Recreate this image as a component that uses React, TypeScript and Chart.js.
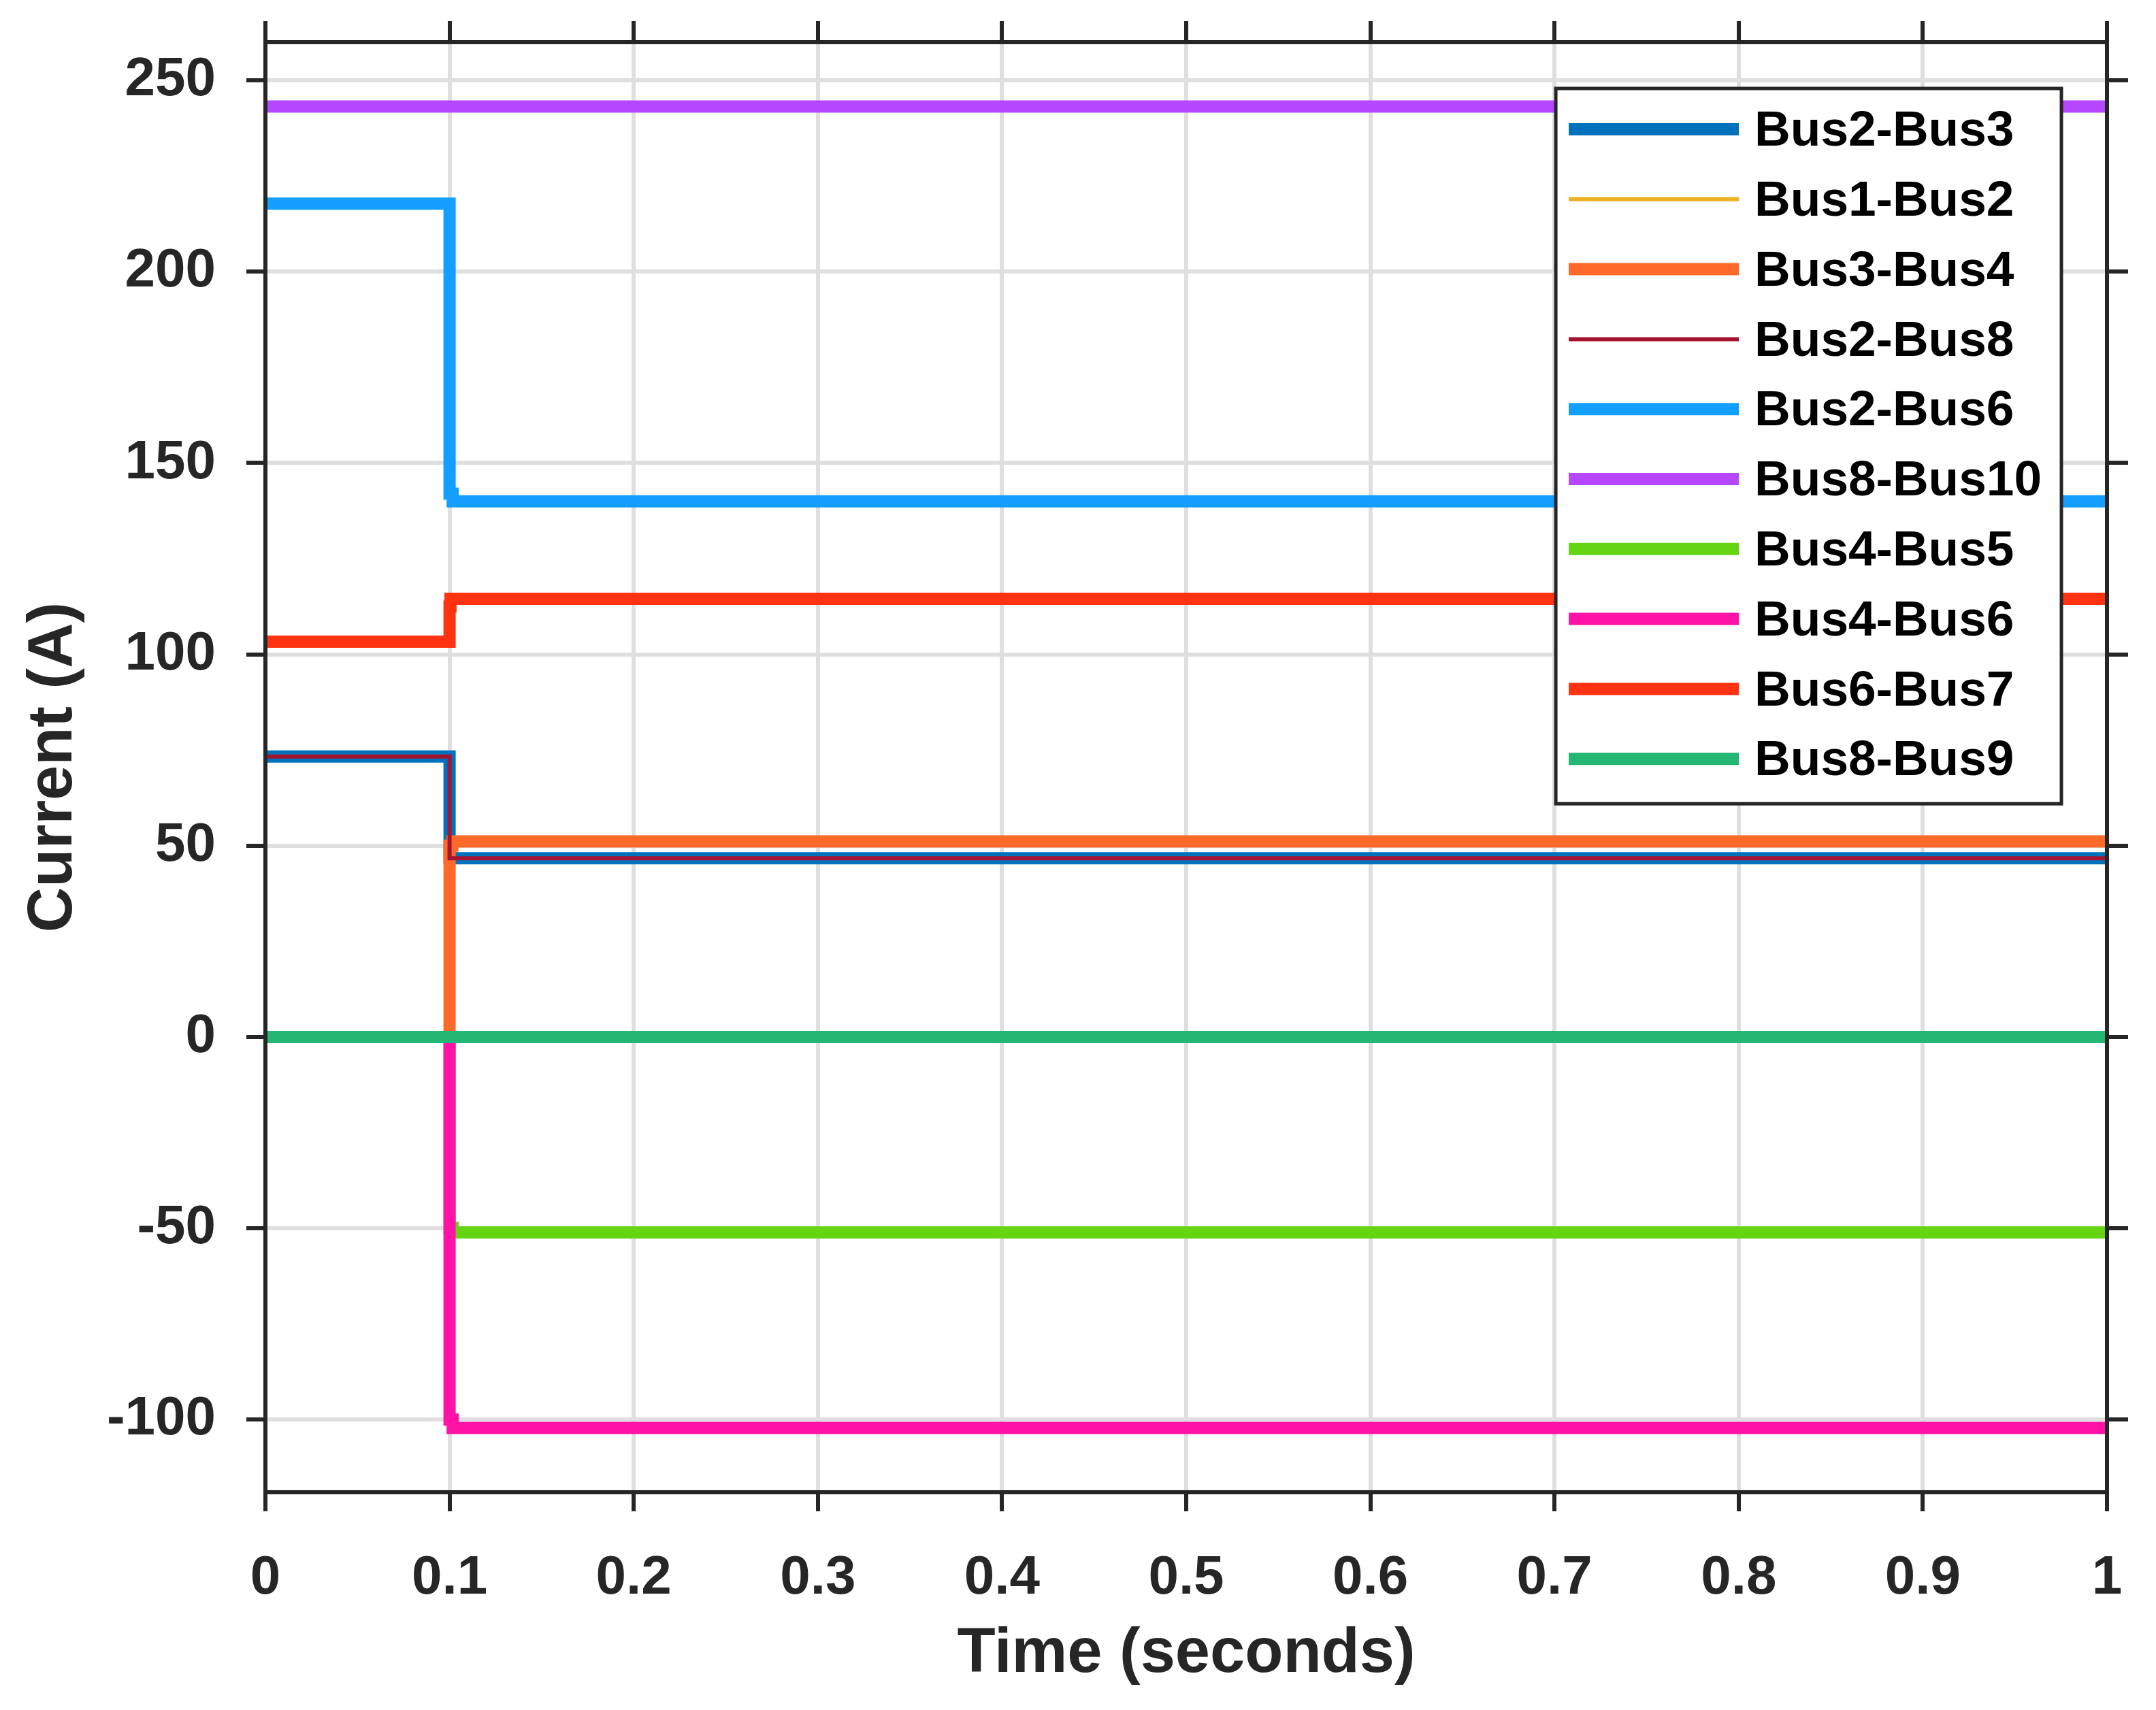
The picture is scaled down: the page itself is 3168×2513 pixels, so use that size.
import React, { useEffect, useRef } from 'react';
import { Chart, registerables } from 'chart.js';

Chart.register(...registerables);

// ---------- data ----------
const seriesNames = [
  'Bus2-Bus3',
  'Bus1-Bus2',
  'Bus3-Bus4',
  'Bus2-Bus8',
  'Bus2-Bus6',
  'Bus8-Bus10',
  'Bus4-Bus5',
  'Bus4-Bus6',
  'Bus6-Bus7',
  'Bus8-Bus9',
];

// time breakpoints (s) and current values (A), drawn as steps
const bus2Bus3Time = [0, 0.1, 1];
const bus2Bus3Current = [73.3, 46.7, 46.7];

const bus1Bus2Time = [0, 1];
const bus1Bus2Current = [0, 0];

const bus3Bus4Time = [0, 0.1, 0.1015, 1];
const bus3Bus4Current = [0, 50, 51.1, 51.1];

const bus2Bus8Time = [0, 0.1, 1];
const bus2Bus8Current = [73.3, 46.7, 46.7];

const bus2Bus6Time = [0, 0.1, 0.1017, 1];
const bus2Bus6Current = [217.8, 142, 140, 140];

const bus8Bus10Time = [0, 1];
const bus8Bus10Current = [243.2, 243.2];

const bus4Bus5Time = [0, 0.1, 0.1017, 1];
const bus4Bus5Current = [0, -49.9, -51.1, -51.1];

const bus4Bus6Time = [0, 0.1, 0.1017, 1];
const bus4Bus6Current = [0, -100, -102.2, -102.2];

const bus6Bus7Time = [0, 0.1, 0.1005, 1];
const bus6Bus7Current = [103.3, 112.5, 114.5, 114.5];

const bus8Bus9Time = [0, 1];
const bus8Bus9Current = [0, 0];

const xTicks = [0, 0.1, 0.2, 0.3, 0.4, 0.5, 0.6, 0.7, 0.8, 0.9, 1];
const xTickLabels = ['0', '0.1', '0.2', '0.3', '0.4', '0.5', '0.6', '0.7', '0.8', '0.9', '1'];
const yTicks = [-100, -50, 0, 50, 100, 150, 200, 250];
const yTickLabels = ['-100', '-50', '0', '50', '100', '150', '200', '250'];
const xMin = 0;
const xMax = 1;
const yMin = -119;
const yMax = 260;

const xTitle = 'Time (seconds)';
const yTitle = 'Current (A)';

// ---------- styles ----------
const seriesColors = [
  '#0072BD',
  '#EDB120',
  '#FF6929',
  '#A2142F',
  '#139FFF',
  '#B746FF',
  '#64D413',
  '#FF13A6',
  '#FF3311',
  '#24B673',
];
const seriesWidths = [18, 6, 18, 6, 18, 18, 18, 18, 18, 18];

const FONT = "'Liberation Sans', Arial, Helvetica, sans-serif";
const AXIS_COLOR = '#262626';
const GRID_COLOR = '#dfdfdf';
const TICK_LEN = 28;

const seriesTimes = [
  bus2Bus3Time, bus1Bus2Time, bus3Bus4Time, bus2Bus8Time, bus2Bus6Time,
  bus8Bus10Time, bus4Bus5Time, bus4Bus6Time, bus6Bus7Time, bus8Bus9Time,
];
const seriesCurrents = [
  bus2Bus3Current, bus1Bus2Current, bus3Bus4Current, bus2Bus8Current, bus2Bus6Current,
  bus8Bus10Current, bus4Bus5Current, bus4Bus6Current, bus6Bus7Current, bus8Bus9Current,
];

// box frame plus top / right tick marks (mirrors of the x / y scale ticks)
const framePlugin = {
  id: 'frame',
  afterDatasetsDraw(chart: any) {
    const { ctx, chartArea } = chart;
    const xs = chart.scales.x;
    const ys = chart.scales.y;
    ctx.save();
    ctx.strokeStyle = AXIS_COLOR;
    ctx.lineWidth = 6;
    ctx.lineCap = 'butt';
    ctx.strokeRect(chartArea.left, chartArea.top, chartArea.right - chartArea.left, chartArea.bottom - chartArea.top);
    ctx.beginPath();
    xs.ticks.forEach((t: any) => {
      const px = Math.round(xs.getPixelForValue(t.value));
      ctx.moveTo(px, chartArea.top);
      ctx.lineTo(px, chartArea.top - 3 - TICK_LEN);
    });
    ys.ticks.forEach((t: any) => {
      const py = Math.round(ys.getPixelForValue(t.value));
      ctx.moveTo(chartArea.right, py);
      ctx.lineTo(chartArea.right + 3 + TICK_LEN, py);
    });
    ctx.stroke();
    ctx.restore();
  },
};

const legendPlugin = {
  id: 'boxLegend',
  afterDraw(chart: any) {
    const { ctx, chartArea } = chart;
    const items = chart.data.datasets;
    ctx.save();
    ctx.font = `bold 73px ${FONT}`;
    const maxText = Math.max(...items.map((d: any) => ctx.measureText(d.label).width));
    const padL = 19, sampleLen = 250, gap = 23, padR = 29, rowH = 102.8, firstRow = 60, lastPad = 66;
    const w = padL + sampleLen + gap + maxText + padR;
    const h = firstRow + (items.length - 1) * rowH + lastPad;
    const right = chartArea.right - 67;
    const top = chartArea.top + 68;
    const left = right - w;
    ctx.fillStyle = '#ffffff';
    ctx.fillRect(left, top, w, h);
    ctx.lineWidth = 5;
    ctx.strokeStyle = AXIS_COLOR;
    ctx.strokeRect(left, top, w, h);
    items.forEach((d: any, i: number) => {
      const cy = top + firstRow + i * rowH;
      ctx.beginPath();
      ctx.moveTo(left + padL, cy);
      ctx.lineTo(left + padL + sampleLen, cy);
      ctx.lineWidth = d.borderWidth;
      ctx.strokeStyle = d.borderColor;
      ctx.lineCap = 'butt';
      ctx.stroke();
      ctx.fillStyle = '#000000';
      ctx.textBaseline = 'middle';
      ctx.textAlign = 'left';
      ctx.fillText(d.label, left + padL + sampleLen + gap, cy + 4);
    });
    ctx.restore();
  },
};

export default function App() {
  const canvasRef = useRef<HTMLCanvasElement | null>(null);

  useEffect(() => {
    if (!canvasRef.current) return;
    const n = seriesNames.length;
    const datasets = seriesNames.map((name, i) => ({
      label: name,
      data: seriesTimes[i].map((t, k) => ({ x: t, y: seriesCurrents[i][k] })),
      borderColor: seriesColors[i],
      backgroundColor: seriesColors[i],
      borderWidth: seriesWidths[i],
      stepped: 'before' as const,
      pointRadius: 0,
      pointHoverRadius: 0,
      borderJoinStyle: 'miter' as const,
      borderCapStyle: 'butt' as const,
      fill: false,
      tension: 0,
      clip: 0,
      order: n - i,
      xAxisID: 'x',
      yAxisID: 'y',
    }));

    const tickFont = { family: FONT, size: 80, weight: 'bold' as const };
    const titleFont = { family: FONT, size: 92, weight: 'bold' as const };

    const chart = new Chart(canvasRef.current, {
      type: 'line',
      data: { datasets },
      options: {
        responsive: false,
        maintainAspectRatio: false,
        devicePixelRatio: 1,
        animation: false,
        layout: { padding: { top: 62, right: 72, left: 0, bottom: 0 } },
        plugins: {
          legend: { display: false },
          tooltip: { enabled: false },
        },
        scales: {
          x: {
            type: 'linear',
            position: 'bottom',
            min: xMin,
            max: xMax,
            afterBuildTicks: (s: any) => { s.ticks = xTicks.map((v) => ({ value: v })); },
            afterFit: (s: any) => {
              s.height = 320;
              s.paddingLeft = 0;
              s.paddingRight = 0;
            },
            ticks: {
              callback: (_v: any, i: number) => xTickLabels[i],
              font: tickFont,
              color: AXIS_COLOR,
              padding: 51,
              maxRotation: 0,
              autoSkip: false,
            },
            grid: {
              color: GRID_COLOR,
              lineWidth: 6,
              drawTicks: true,
              tickLength: TICK_LEN,
              tickWidth: 6,
              tickColor: AXIS_COLOR,
            },
            border: { color: AXIS_COLOR, width: 6 },
            title: {
              display: true,
              text: xTitle,
              font: titleFont,
              color: AXIS_COLOR,
              padding: { top: 0, bottom: 26 },
            },
          },
          y: {
            type: 'linear',
            position: 'left',
            min: yMin,
            max: yMax,
            afterBuildTicks: (s: any) => { s.ticks = yTicks.map((v) => ({ value: v })); },
            afterFit: (s: any) => {
              s.width = 390;
              s.paddingTop = 0;
              s.paddingBottom = 0;
            },
            ticks: {
              callback: (_v: any, i: number) => yTickLabels[i],
              font: tickFont,
              color: AXIS_COLOR,
              padding: 45,
              autoSkip: false,
            },
            grid: {
              color: GRID_COLOR,
              lineWidth: 6,
              drawTicks: true,
              tickLength: TICK_LEN,
              tickWidth: 6,
              tickColor: AXIS_COLOR,
            },
            border: { color: AXIS_COLOR, width: 6 },
            title: {
              display: true,
              text: yTitle,
              font: titleFont,
              color: AXIS_COLOR,
              padding: { top: 24, bottom: 0 },
            },
          },
        },
      } as any,
      plugins: [framePlugin, legendPlugin],
    });

    return () => chart.destroy();
  }, []);

  return (
    <div style={{ position: 'absolute', left: 0, top: 0, width: 3168, height: 2513, background: '#ffffff' }}>
      <canvas ref={canvasRef} width={3168} height={2513} style={{ display: 'block' }} />
    </div>
  );
}
